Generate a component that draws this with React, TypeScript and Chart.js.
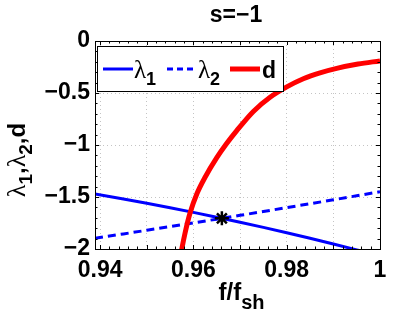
import React, { useEffect, useRef } from "react";
import { Chart, registerables } from "chart.js";

Chart.register(...registerables);

// ---- data ----
const fValues = [0.9389, 0.945, 0.95, 0.955, 0.96, 0.965, 0.97, 0.975, 0.98, 0.985, 0.99, 0.995, 1.0];
const lambda1 = [-1.471, -1.519, -1.560, -1.604, -1.648, -1.695, -1.743, -1.792, -1.844, -1.897, -1.952, -2.008, -2.066];
const lambda2 = [-1.897, -1.855, -1.820, -1.785, -1.749, -1.713, -1.676, -1.640, -1.602, -1.565, -1.527, -1.488, -1.449];
const dF = [0.957, 0.95751, 0.95821, 0.95929, 0.96079, 0.9625, 0.96501, 0.967, 0.96929, 0.97285, 0.97643, 0.98001, 0.98356, 0.98714, 0.99072, 0.99529, 1.0];
const dValues = [-2.13, -2.0, -1.846, -1.652, -1.464, -1.31, -1.122, -0.993, -0.862, -0.677, -0.541, -0.441, -0.363, -0.306, -0.263, -0.222, -0.191];
const starF = [0.9661];
const starV = [-1.705];

const xTicks = [0.94, 0.95, 0.96, 0.97, 0.98, 0.99, 1.0];
const xTickLabels = ["0.94", "", "0.96", "", "0.98", "", "1"];
const yTicks = [-2, -1.5, -1, -0.5, 0];
const yTickLabels = ["\u22122", "\u22121.5", "\u22121", "\u22120.5", "0"];

const titleText = "s=\u22121";
const BLUE = "#0000ff";
const RED = "#ff0000";
const SANS = "'Liberation Sans', Arial, sans-serif";
const SERIF = "'Liberation Serif', 'Times New Roman', serif";

type Part = { t: string; font: string; dy: number };

function partsWidth(ctx: CanvasRenderingContext2D, parts: Part[]) {
  let w = 0;
  for (const p of parts) {
    ctx.font = p.font;
    w += ctx.measureText(p.t).width;
  }
  return w;
}

function drawParts(ctx: CanvasRenderingContext2D, parts: Part[], x: number, y: number) {
  let cx = x;
  ctx.textBaseline = "alphabetic";
  ctx.textAlign = "left";
  for (const p of parts) {
    ctx.font = p.font;
    ctx.fillText(p.t, cx, y + p.dy);
    cx += ctx.measureText(p.t).width;
  }
  return cx;
}

const decorPlugin = {
  id: "decor",
  afterDraw(chart: any) {
    const { ctx, chartArea: a, scales } = chart;
    const xs = scales.x;
    const ys = scales.y;
    ctx.save();
    ctx.fillStyle = "#000";
    ctx.strokeStyle = "#000";

    // minor / major inward ticks
    ctx.lineWidth = 1;
    ctx.beginPath();
    for (let k = 0; k <= 30; k++) {
      const v = 0.94 + k * 0.002;
      const px = Math.round(xs.getPixelForValue(v)) + 0.5;
      const len = k % 5 === 0 ? 4 : 2.5;
      ctx.moveTo(px, a.bottom);
      ctx.lineTo(px, a.bottom - len);
      ctx.moveTo(px, a.top);
      ctx.lineTo(px, a.top + len);
    }
    for (let k = 0; k <= 20; k++) {
      const v = -2 + k * 0.1;
      const py = Math.round(ys.getPixelForValue(v)) + 0.5;
      const len = k % 5 === 0 ? 4 : 2.5;
      ctx.moveTo(a.left, py);
      ctx.lineTo(a.left + len, py);
      ctx.moveTo(a.right, py);
      ctx.lineTo(a.right - len, py);
    }
    ctx.stroke();
    ctx.strokeRect(Math.round(a.left) + 0.5, Math.round(a.top) + 0.5, Math.round(a.right - a.left), Math.round(a.bottom - a.top));

    // title
    ctx.font = `bold 23px ${SANS}`;
    ctx.textAlign = "center";
    ctx.textBaseline = "middle";
    ctx.fillText(titleText, 236, 16);

    // x axis label f/f_sh
    const xParts: Part[] = [
      { t: "f/f", font: `bold 24px ${SANS}`, dy: 0 },
      { t: "sh", font: `bold 20px ${SANS}`, dy: 9 },
    ];
    const xw = partsWidth(ctx, xParts);
    drawParts(ctx, xParts, 241.5 - xw / 2, 300);

    // y axis label
    const yParts: Part[] = [
      { t: "\u03bb", font: `26px ${SERIF}`, dy: 0 },
      { t: "1", font: `bold 19px ${SANS}`, dy: 7 },
      { t: ",", font: `bold 24px ${SANS}`, dy: 0 },
      { t: "\u03bb", font: `26px ${SERIF}`, dy: 0 },
      { t: "2", font: `bold 19px ${SANS}`, dy: 7 },
      { t: ",", font: `bold 24px ${SANS}`, dy: 0 },
      { t: "d", font: `bold 24px ${SANS}`, dy: 0 },
    ];
    const yw = partsWidth(ctx, yParts);
    ctx.save();
    ctx.translate(25, 160);
    ctx.rotate(-Math.PI / 2);
    drawParts(ctx, yParts, -yw / 2, 0);
    ctx.restore();

    // legend
    const lx = 97.5, ly = 46.5, lw = 186, lh = 45;
    ctx.fillStyle = "#fff";
    ctx.fillRect(lx, ly, lw, lh);
    ctx.strokeStyle = "#000";
    ctx.lineWidth = 1;
    ctx.strokeRect(lx, ly, lw, lh);
    const midY = 69;
    const baseY = 78;
    const sample = (x0: number, x1: number, color: string, width: number, dash: number[]) => {
      ctx.save();
      ctx.strokeStyle = color;
      ctx.lineWidth = width;
      ctx.setLineDash(dash);
      ctx.beginPath();
      ctx.moveTo(x0, midY);
      ctx.lineTo(x1, midY);
      ctx.stroke();
      ctx.restore();
    };
    ctx.fillStyle = "#000";
    sample(103, 133, BLUE, 3, []);
    drawParts(ctx, [
      { t: "\u03bb", font: `25px ${SERIF}`, dy: 0 },
      { t: "1", font: `bold 18px ${SANS}`, dy: 7 },
    ], 134, baseY);
    sample(167, 197, BLUE, 3, [6, 4]);
    drawParts(ctx, [
      { t: "\u03bb", font: `25px ${SERIF}`, dy: 0 },
      { t: "2", font: `bold 18px ${SANS}`, dy: 7 },
    ], 198, baseY);
    sample(230, 260, RED, 5, []);
    drawParts(ctx, [{ t: "d", font: `bold 23px ${SANS}`, dy: 0 }], 262, baseY);

    ctx.restore();
  },
};

export default function App() {
  const ref = useRef<HTMLCanvasElement | null>(null);

  useEffect(() => {
    document.body.style.margin = "0";
    const canvas = ref.current;
    if (!canvas) return;
    const tickFont = { family: SANS, size: 23, weight: "bold" as const };
    const chart = new Chart(canvas, {
      type: "line",
      data: {
        datasets: [
          {
            label: "star",
            data: starF.map((f, i) => ({ x: f, y: starV[i] })),
            showLine: false,
            pointStyle: "star",
            pointRadius: 7,
            pointBorderWidth: 2.5,
            pointBorderColor: "#000",
            pointBackgroundColor: "#000",
          },
          {
            label: "d",
            data: dF.map((f, i) => ({ x: f, y: dValues[i] })),
            borderColor: RED,
            borderWidth: 5,
            pointRadius: 0,
            cubicInterpolationMode: "monotone",
          },
          {
            label: "\u03bb1",
            data: fValues.map((f, i) => ({ x: f, y: lambda1[i] })),
            borderColor: BLUE,
            borderWidth: 3,
            pointRadius: 0,
            tension: 0,
          },
          {
            label: "\u03bb2",
            data: fValues.map((f, i) => ({ x: f, y: lambda2[i] })),
            borderColor: BLUE,
            borderWidth: 3,
            borderDash: [8, 5],
            pointRadius: 0,
            tension: 0,
          },
        ],
      },
      options: {
        responsive: false,
        animation: false,
        layout: { padding: { top: 41, right: 39, left: 0, bottom: 0 } },
        plugins: {
          legend: { display: false },
          title: { display: false },
          tooltip: { enabled: false },
        },
        scales: {
          x: {
            type: "linear",
            min: 0.9389,
            max: 1.0,
            afterBuildTicks: (s: any) => {
              s.ticks = xTicks.map((v) => ({ value: v }));
            },
            afterFit: (s: any) => {
              s.height = 66;
            },
            ticks: {
              autoSkip: false,
              maxRotation: 0,
              color: "#000",
              font: tickFont,
              padding: 8,
              callback: (_v: any, i: number) => xTickLabels[i],
            },
            grid: { color: "#c4c4c4", lineWidth: 1, drawTicks: false },
            border: { display: false, dash: [1, 3] },
          },
          y: {
            type: "linear",
            min: -2,
            max: 0,
            afterBuildTicks: (s: any) => {
              s.ticks = yTicks.map((v) => ({ value: v }));
            },
            afterFit: (s: any) => {
              s.width = 95;
            },
            ticks: {
              autoSkip: false,
              color: "#000",
              font: tickFont,
              padding: 5,
              callback: (_v: any, i: number) => yTickLabels[i],
            },
            grid: { color: "#c4c4c4", lineWidth: 1, drawTicks: false },
            border: { display: false, dash: [1, 3] },
          },
        },
      },
      plugins: [decorPlugin],
    });
    return () => chart.destroy();
  }, []);

  return (
    <div style={{ width: 419, height: 315, background: "#fff" }}>
      <canvas ref={ref} width={419} height={315} style={{ display: "block" }} />
    </div>
  );
}
